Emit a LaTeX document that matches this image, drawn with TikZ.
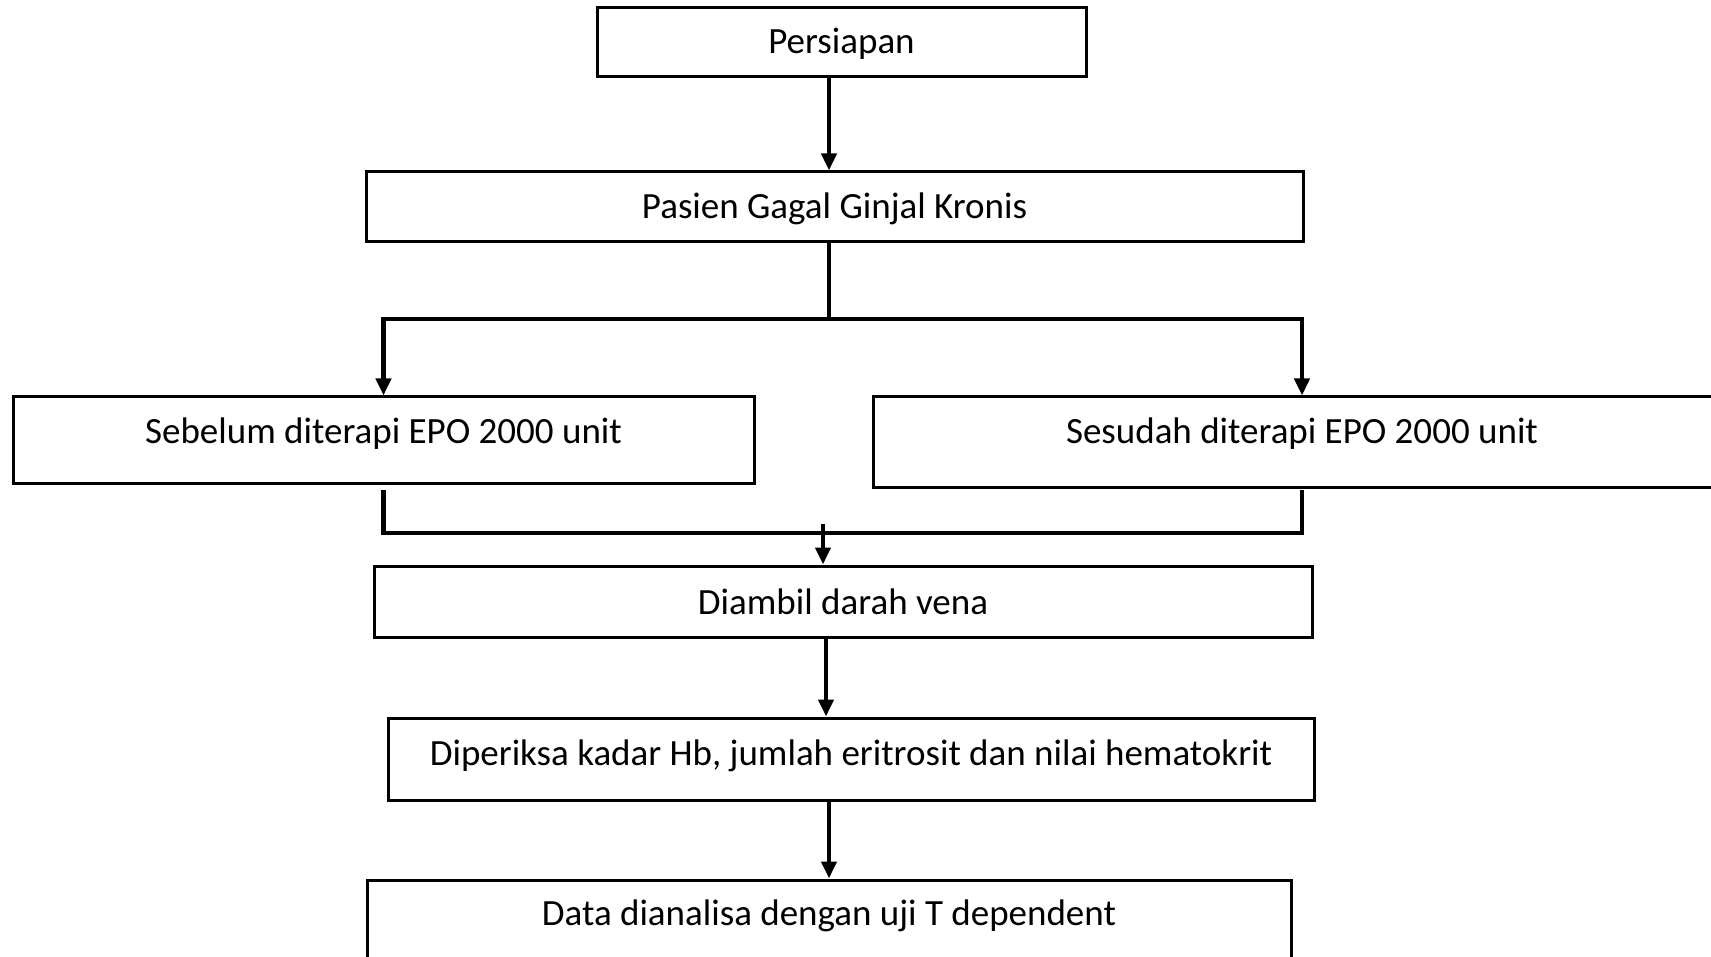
\documentclass[tikz,border=0pt]{standalone}
\usepackage{fontspec}
\setmainfont{Carlito}
\usetikzlibrary{arrows.meta}
\begin{document}
\begin{tikzpicture}[x=1pt,y=-1pt,
  box/.style={draw,line width=3pt,rectangle,inner sep=0pt},
  txt/.style={font=\fontsize{37}{44}\selectfont,text height=26pt,text depth=9pt,inner sep=0pt},
  conn/.style={line width=4.5pt},
  arr/.style={conn,-{Triangle[length=17pt,width=15pt]}}]
\useasboundingbox (0,0) rectangle (1711,957);
\fill[white] (0,0) rectangle (1711,957);
\node[box,minimum width=489pt,minimum height=69pt,label={[txt,yshift=-3pt]center:Persiapan}] (A) at (841.5,42.5) {};
\node[box,minimum width=937pt,minimum height=70pt,label={[txt,yshift=-3pt]center:Pasien Gagal Ginjal Kronis}] (B) at (834.5,207) {};
\node[box,minimum width=741pt,minimum height=86pt,label={[txt,yshift=5pt]center:Sebelum diterapi EPO 2000 unit}] (C) at (383.5,440) {};
\node[box,minimum width=858pt,minimum height=90pt,label={[txt,yshift=7pt]center:Sesudah diterapi EPO 2000 unit}] (D) at (1302,442) {};
\node[box,minimum width=938pt,minimum height=71pt,label={[txt,yshift=-4pt]center:Diambil darah vena}] (E) at (843,601.5) {};
\node[box,minimum width=926pt,minimum height=82pt,label={[txt,yshift=2pt]center:Diperiksa kadar Hb, jumlah eritrosit dan nilai hematokrit}] (F) at (851,759) {};
\node[box,minimum width=924pt,minimum height=90pt,label={[txt,yshift=8pt]center:Data dianalisa dengan uji T dependent}] (G) at (829,925) {};
% connectors
\draw[arr] ([xshift=-12.5pt]A.south) -- ([xshift=-12.5pt]A.south |- B.north);
\coordinate (s1) at (829,319);
\draw[conn] (B.south -| s1) -- (s1);
\draw[arr] (s1) -| (C.north);
\draw[arr] (s1) -| (D.north);
\coordinate (j2) at (823,533);
\draw[conn] ([yshift=-5pt]C.south) |- (j2) -| ([yshift=-1pt]D.south);
\draw[arr] ([yshift=9pt]j2) -- (j2 |- E.north);
\draw[arr] ([xshift=-17pt]E.south) -- ([xshift=-17pt]E.south |- F.north);
\draw[arr] ([xshift=-22pt]F.south) -- ([xshift=-22pt]F.south |- G.north);
\end{tikzpicture}
\end{document}
